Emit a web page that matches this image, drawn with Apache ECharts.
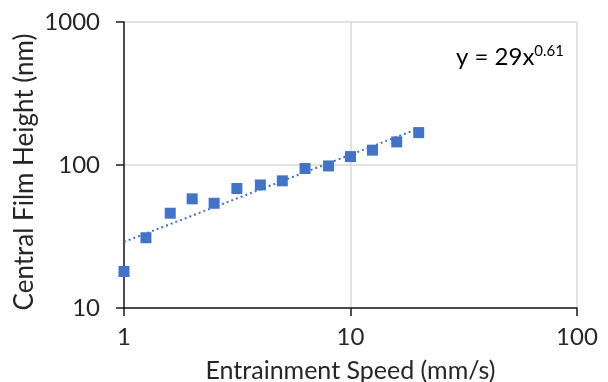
<!DOCTYPE html>
<html>
<head>
<meta charset="utf-8">
<script src="https://cdn.jsdelivr.net/npm/echarts@6/dist/echarts.min.js"></script>
<style>html,body{margin:0;padding:0;background:#fff}#c{width:608px;height:382px}</style>
</head>
<body>
<div id="c"></div>
<script>
const speeds = [1, 1.25, 1.6, 2, 2.5, 3.15, 4, 5, 6.3, 8, 10, 12.5, 16, 20];
const heights = [18, 31, 46, 58, 54, 68.5, 72.5, 77.5, 94.5, 98.5, 114.5, 127, 145, 168.5];
const trendX = [1, 20];
const trendY = [29, 180];
const xTicks = ['1', '10', '100'];
const yTicks = ['10', '100', '1000'];
const xTitle = 'Entrainment Speed (mm/s)';
const yTitle = 'Central Film Height (nm)';

const FONT = 'Lato';
const chart = echarts.init(document.getElementById('c'));
chart.setOption({
  animation: false,
  backgroundColor: '#fff',
  grid: { left: 124, right: 31, top: 22, bottom: 74, containLabel: false, outerBoundsMode: 'none' },
  xAxis: {
    type: 'log', logBase: 10, min: 1, max: 100,
    name: xTitle, nameLocation: 'middle', nameGap: 50,
    nameTextStyle: { fontFamily: FONT, fontSize: 25, color: '#262626' },
    axisLine: { lineStyle: { color: '#1a1a1a', width: 1.5 } },
    axisTick: { show: true, length: 8, lineStyle: { color: '#1a1a1a', width: 1.5 } },
    axisLabel: { fontFamily: FONT, fontSize: 24, color: '#262626', margin: 17,
      formatter: v => xTicks.find(t => Number(t) === v) || '' },
    splitLine: { show: true, lineStyle: { color: '#d9d9d9', width: 1.5 } },
    minorTick: { show: false }
  },
  yAxis: {
    type: 'log', logBase: 10, min: 10, max: 1000,
    axisLine: { show: true, lineStyle: { color: '#1a1a1a', width: 1.5 } },
    axisTick: { show: true, length: 8, lineStyle: { color: '#1a1a1a', width: 1.5 } },
    axisLabel: { fontFamily: FONT, fontSize: 24, color: '#262626', margin: 24,
      formatter: v => yTicks.find(t => Number(t) === v) || '' },
    splitLine: { show: true, lineStyle: { color: '#d9d9d9', width: 1.5 } }
  },
  series: [
    {
      type: 'line',
      data: trendX.map((x, i) => [x, trendY[i]]),
      symbol: 'none',
      lineStyle: { color: '#4472C4', width: 2, type: [2, 3] },
      z: 2
    },
    {
      type: 'scatter',
      data: speeds.map((x, i) => [x, heights[i]]),
      symbol: 'rect',
      symbolSize: 11,
      itemStyle: { color: '#4472C4', opacity: 1 },
      z: 3
    }
  ],
  graphic: [
    {
      type: 'text',
      x: 25, y: 172,
      rotation: Math.PI / 2,
      style: {
        text: yTitle,
        fontFamily: FONT, fontSize: 26, fill: '#262626',
        align: 'center', verticalAlign: 'middle'
      }
    },
    {
      type: 'text',
      left: 456, top: 44,
      style: {
        text: '{a|y = 29x}{b|0.61}',
        rich: {
          a: { fontFamily: FONT, fontSize: 24, fill: '#000', verticalAlign: 'bottom' },
          b: { fontFamily: FONT, fontSize: 15, fill: '#000', verticalAlign: 'top', padding: [0, 0, 10, 0] }
        }
      }
    }
  ]
});
</script>
</body>
</html>
